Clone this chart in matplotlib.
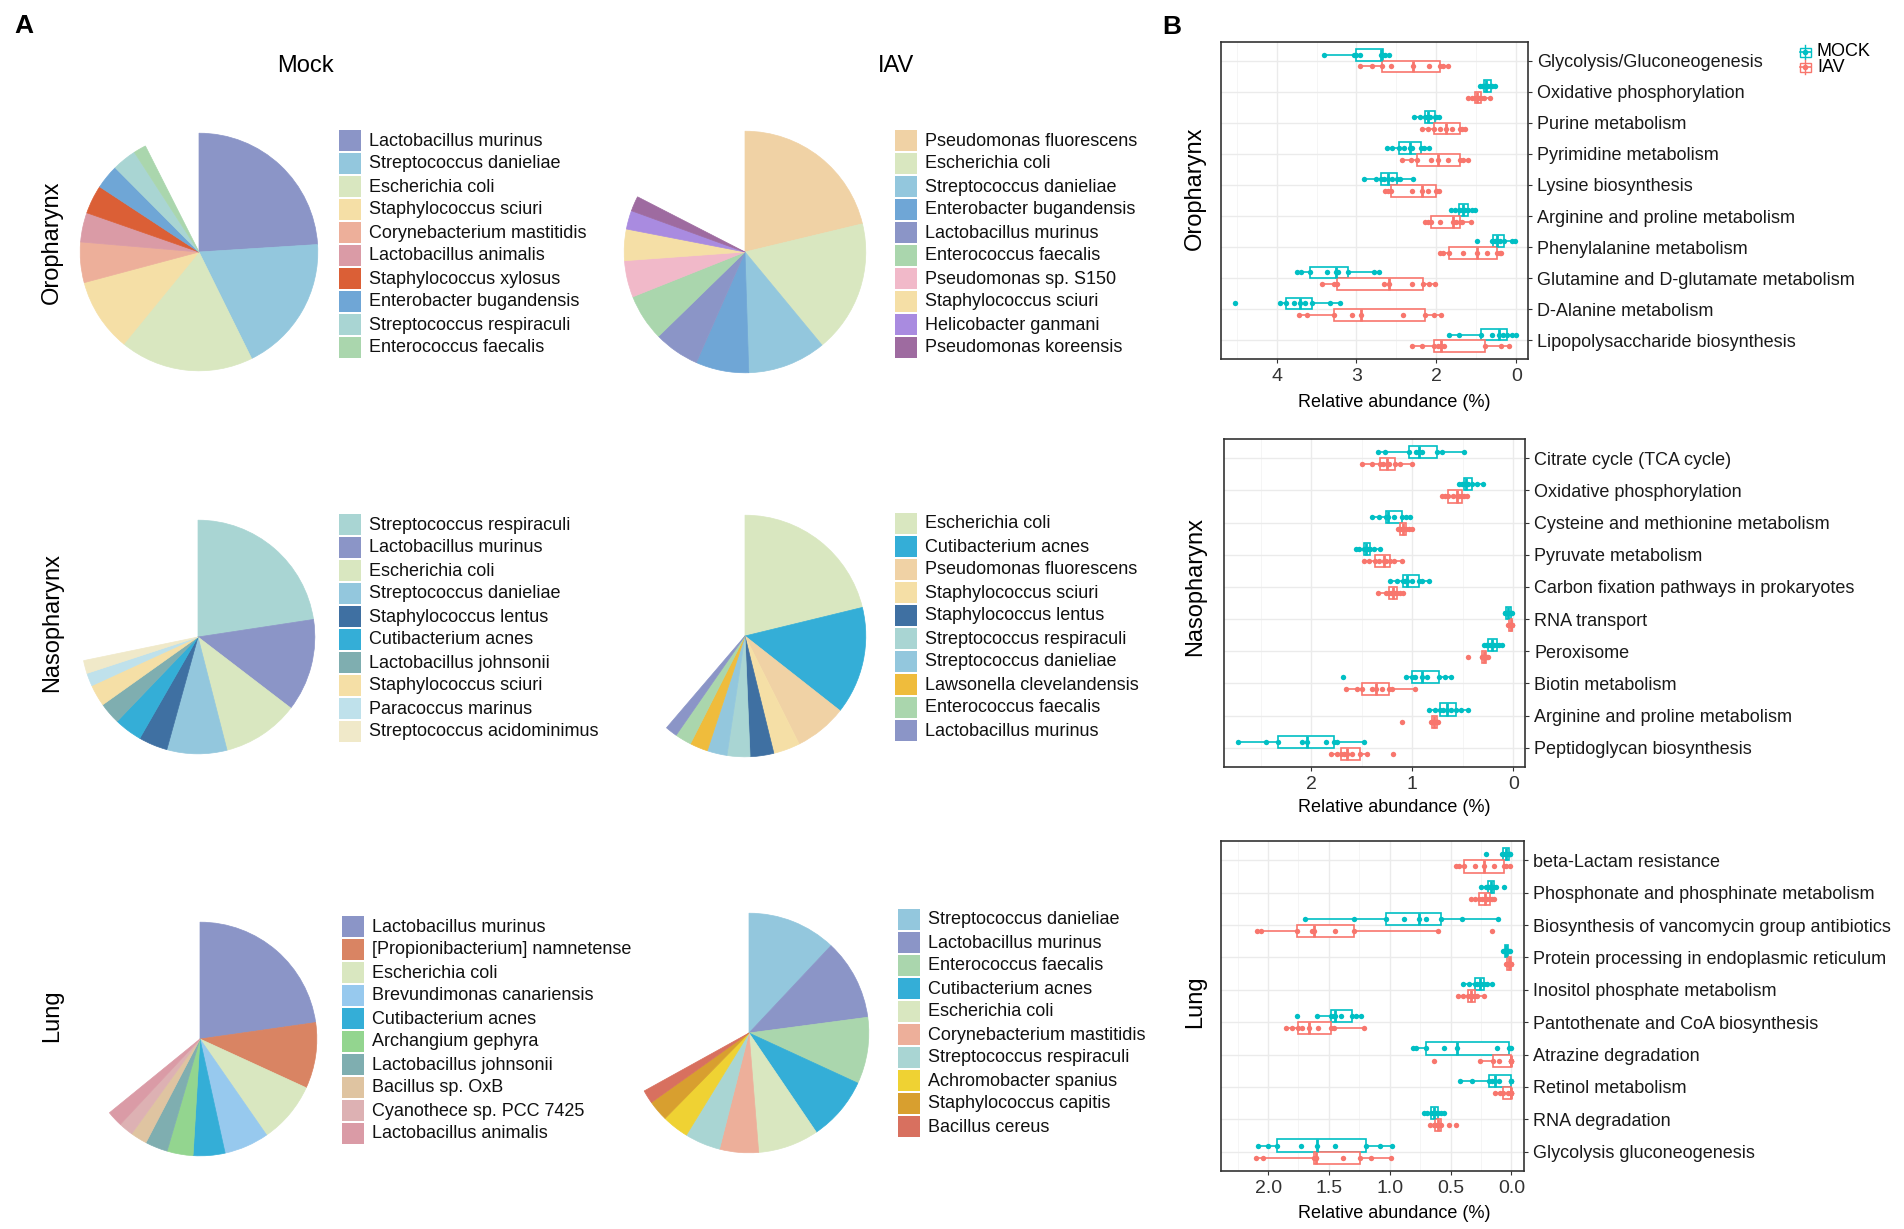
import matplotlib

matplotlib.use("Agg")
import matplotlib.pyplot as plt
import numpy as np
from matplotlib.lines import Line2D
from matplotlib.patches import Rectangle

plt.rcParams["font.family"] = ["Liberation Sans", "DejaVu Sans"]

W, H = 1904, 1229

# ---------------- panel A: species composition ----------------
SPECIES_COLORS = {
    "Lactobacillus murinus": "#8B95C7",
    "Streptococcus danieliae": "#93C7DD",
    "Escherichia coli": "#D9E7C0",
    "Staphylococcus sciuri": "#F5DFA6",
    "Corynebacterium mastitidis": "#EDAF9A",
    "Lactobacillus animalis": "#DA9BA6",
    "Staphylococcus xylosus": "#DB5F36",
    "Enterobacter bugandensis": "#6FA6D6",
    "Streptococcus respiraculi": "#A9D5D3",
    "Enterococcus faecalis": "#AAD6AD",
    "Pseudomonas fluorescens": "#F0D2A5",
    "Pseudomonas sp. S150": "#F1B9C9",
    "Helicobacter ganmani": "#A98BE0",
    "Pseudomonas koreensis": "#9E6BA0",
    "Staphylococcus lentus": "#3F70A2",
    "Cutibacterium acnes": "#34AED7",
    "Lactobacillus johnsonii": "#7FAEB0",
    "Paracoccus marinus": "#BFE1EB",
    "Streptococcus acidominimus": "#F0E9C9",
    "Lawsonella clevelandensis": "#EFBC3C",
    "[Propionibacterium] namnetense": "#D98463",
    "Brevundimonas canariensis": "#97C9EE",
    "Archangium gephyra": "#93D58F",
    "Bacillus sp. OxB": "#DFC4A1",
    "Cyanothece sp. PCC 7425": "#DDB1B3",
    "Achromobacter spanius": "#EFD233",
    "Staphylococcus capitis": "#D89F2F",
    "Bacillus cereus": "#D8705F",
}

ORO_MOCK_SPECIES = ["Lactobacillus murinus", "Streptococcus danieliae", "Escherichia coli",
                    "Staphylococcus sciuri", "Corynebacterium mastitidis", "Lactobacillus animalis",
                    "Staphylococcus xylosus", "Enterobacter bugandensis", "Streptococcus respiraculi",
                    "Enterococcus faecalis"]
ORO_MOCK_FRAC = [0.240, 0.187, 0.182, 0.0995, 0.055, 0.040, 0.039, 0.033, 0.033, 0.017]

ORO_IAV_SPECIES = ["Pseudomonas fluorescens", "Escherichia coli", "Streptococcus danieliae",
                   "Enterobacter bugandensis", "Lactobacillus murinus", "Enterococcus faecalis",
                   "Pseudomonas sp. S150", "Staphylococcus sciuri", "Helicobacter ganmani",
                   "Pseudomonas koreensis"]
ORO_IAV_FRAC = [0.2125, 0.1775, 0.105, 0.071, 0.061, 0.0625, 0.049, 0.042, 0.025, 0.020]

NASO_MOCK_SPECIES = ["Streptococcus respiraculi", "Lactobacillus murinus", "Escherichia coli",
                     "Streptococcus danieliae", "Staphylococcus lentus", "Cutibacterium acnes",
                     "Lactobacillus johnsonii", "Staphylococcus sciuri", "Paracoccus marinus",
                     "Streptococcus acidominimus"]
NASO_MOCK_FRAC = [0.226, 0.128, 0.106, 0.083, 0.040, 0.0386, 0.030, 0.030, 0.018, 0.018]

NASO_IAV_SPECIES = ["Escherichia coli", "Cutibacterium acnes", "Pseudomonas fluorescens",
                    "Staphylococcus sciuri", "Staphylococcus lentus", "Streptococcus respiraculi",
                    "Streptococcus danieliae", "Lawsonella clevelandensis", "Enterococcus faecalis",
                    "Lactobacillus murinus"]
NASO_IAV_FRAC = [0.212, 0.144, 0.070, 0.0356, 0.0317, 0.0306, 0.0267, 0.024, 0.022, 0.016]

LUNG_MOCK_SPECIES = ["Lactobacillus murinus", "[Propionibacterium] namnetense", "Escherichia coli",
                     "Brevundimonas canariensis", "Cutibacterium acnes", "Archangium gephyra",
                     "Lactobacillus johnsonii", "Bacillus sp. OxB", "Cyanothece sp. PCC 7425",
                     "Lactobacillus animalis"]
LUNG_MOCK_FRAC = [0.2275, 0.091, 0.085, 0.062, 0.044, 0.036, 0.031, 0.023, 0.020, 0.0217]

LUNG_IAV_SPECIES = ["Streptococcus danieliae", "Lactobacillus murinus", "Enterococcus faecalis",
                    "Cutibacterium acnes", "Escherichia coli", "Corynebacterium mastitidis",
                    "Streptococcus respiraculi", "Achromobacter spanius", "Staphylococcus capitis",
                    "Bacillus cereus"]
LUNG_IAV_FRAC = [0.120, 0.109, 0.0897, 0.0864, 0.082, 0.0525, 0.048, 0.036, 0.028, 0.018]

# ---------------- panel B: KEGG pathways (relative abundance, %) ----------------
ORO_PATHWAYS = ["Glycolysis/Gluconeogenesis", "Oxidative phosphorylation", "Purine metabolism",
                "Pyrimidine metabolism", "Lysine biosynthesis", "Arginine and proline metabolism",
                "Phenylalanine metabolism", "Glutamine and D-glutamate metabolism",
                "D-Alanine metabolism", "Lipopolysaccharide biosynthesis"]
ORO_TICKS = [4, 3, 2, 1]
ORO_TICKLABELS = ["4", "3", "2", "0"]
ORO_MOCK = [
    [2.587, 2.64, 2.662, 2.68, 2.699, 2.96, 3.004, 3.03, 3.409],
    [1.271, 1.30, 1.322, 1.35, 1.376, 1.39, 1.409, 1.43, 1.459],
    [1.969, 2.00, 2.015, 2.08, 2.106, 2.12, 2.140, 2.20, 2.282],
    [2.098, 2.15, 2.190, 2.30, 2.336, 2.40, 2.470, 2.55, 2.616],
    [2.294, 2.45, 2.495, 2.55, 2.608, 2.65, 2.691, 2.75, 2.900],
    [1.522, 1.56, 1.605, 1.64, 1.668, 1.70, 1.722, 1.77, 1.814],
    [1.021, 1.06, 1.16, 1.21, 1.238, 1.27, 1.29, 1.30, 1.49],
    [2.724, 2.78, 3.109, 3.23, 3.255, 3.37, 3.580, 3.70, 3.747],
    [3.200, 3.33, 3.560, 3.64, 3.701, 3.78, 3.881, 3.952, 4.520],
    [1.000, 1.06, 1.113, 1.17, 1.221, 1.30, 1.438, 1.72, 1.843],
]
ORO_IAV = [
    [1.856, 1.919, 1.952, 2.098, 2.294, 2.566, 2.678, 2.808, 2.950],
    [1.33, 1.40, 1.438, 1.47, 1.489, 1.50, 1.514, 1.55, 1.605],
    [1.647, 1.68, 1.710, 1.80, 1.885, 1.96, 2.035, 2.10, 2.182],
    [1.605, 1.67, 1.701, 1.85, 1.981, 2.07, 2.240, 2.32, 2.428],
    [1.973, 1.99, 2.002, 2.10, 2.182, 2.30, 2.566, 2.60, 2.649],
    [1.572, 1.68, 1.710, 1.75, 1.793, 1.95, 2.073, 2.10, 2.140],
    [1.188, 1.21, 1.238, 1.37, 1.489, 1.67, 1.843, 1.92, 1.960],
    [2.015, 2.09, 2.169, 2.31, 2.595, 2.66, 3.246, 3.28, 3.434],
    [1.939, 2.03, 2.148, 2.42, 2.942, 3.06, 3.284, 3.62, 3.714],
    [1.096, 1.19, 1.388, 1.90, 1.948, 1.98, 2.031, 2.18, 2.303],
]

NASO_PATHWAYS = ["Citrate cycle (TCA cycle)", "Oxidative phosphorylation",
                 "Cysteine and methionine metabolism", "Pyruvate metabolism",
                 "Carbon fixation pathways in prokaryotes", "RNA transport", "Peroxisome",
                 "Biotin metabolism", "Arginine and proline metabolism", "Peptidoglycan biosynthesis"]
NASO_TICKS = [2, 1, 0]
NASO_TICKLABELS = ["2", "1", "0"]
NASO_MOCK = [
    [0.486, 0.71, 0.760, 0.90, 0.932, 0.96, 1.035, 1.27, 1.339],
    [0.30, 0.36, 0.413, 0.45, 0.473, 0.48, 0.489, 0.51, 0.536],
    [1.025, 1.06, 1.107, 1.18, 1.240, 1.25, 1.263, 1.33, 1.395],
    [1.32, 1.38, 1.415, 1.44, 1.455, 1.47, 1.481, 1.53, 1.560],
    [0.833, 0.90, 0.932, 1.00, 1.051, 1.07, 1.091, 1.15, 1.223],
    [0.010, 0.02, 0.026, 0.05, 0.056, 0.06, 0.076, 0.08, 0.083],
    [0.109, 0.14, 0.165, 0.19, 0.208, 0.23, 0.255, 0.27, 0.291],
    [0.618, 0.68, 0.737, 0.85, 0.902, 0.97, 1.008, 1.058, 1.686],
    [0.453, 0.52, 0.569, 0.62, 0.661, 0.70, 0.727, 0.78, 0.836],
    [1.481, 1.75, 1.779, 1.86, 2.040, 2.09, 2.331, 2.45, 2.727],
]
NASO_IAV = [
    [1.002, 1.12, 1.167, 1.23, 1.256, 1.29, 1.316, 1.40, 1.494],
    [0.456, 0.49, 0.512, 0.54, 0.562, 0.60, 0.651, 0.68, 0.711],
    [1.008, 1.03, 1.058, 1.08, 1.091, 1.10, 1.124, 1.13, 1.140],
    [1.101, 1.18, 1.223, 1.26, 1.279, 1.33, 1.372, 1.43, 1.481],
    [1.091, 1.12, 1.150, 1.17, 1.190, 1.21, 1.233, 1.26, 1.345],
    [0.010, 0.015, 0.017, 0.02, 0.026, 0.03, 0.040, 0.045, 0.050],
    [0.255, 0.265, 0.271, 0.28, 0.291, 0.30, 0.307, 0.314, 0.453],
    [0.969, 1.20, 1.233, 1.30, 1.362, 1.40, 1.498, 1.55, 1.660],
    [0.750, 0.755, 0.760, 0.77, 0.783, 0.80, 0.810, 0.817, 1.107],
    [1.190, 1.448, 1.521, 1.60, 1.646, 1.68, 1.702, 1.75, 1.802],
]

LUNG_PATHWAYS = ["beta-Lactam resistance", "Phosphonate and phosphinate metabolism",
                 "Biosynthesis of vancomycin group antibiotics",
                 "Protein processing in endoplasmic reticulum", "Inositol phosphate metabolism",
                 "Pantothenate and CoA biosynthesis", "Atrazine degradation", "Retinol metabolism",
                 "RNA degradation", "Glycolysis gluconeogenesis"]
LUNG_TICKS = [2.0, 1.5, 1.0, 0.5, 0.0]
LUNG_TICKLABELS = ["2.0", "1.5", "1.0", "0.5", "0.0"]
LUNG_MOCK = [
    [0.008, 0.015, 0.022, 0.04, 0.047, 0.055, 0.069, 0.075, 0.206],
    [0.060, 0.13, 0.143, 0.16, 0.170, 0.18, 0.192, 0.21, 0.252],
    [0.110, 0.403, 0.576, 0.70, 0.763, 0.88, 1.029, 1.295, 1.70],
    [0.014, 0.02, 0.027, 0.035, 0.041, 0.048, 0.055, 0.06, 0.069],
    [0.159, 0.20, 0.228, 0.25, 0.261, 0.28, 0.302, 0.35, 0.398],
    [1.235, 1.28, 1.309, 1.40, 1.449, 1.46, 1.481, 1.597, 1.76],
    [0.0, 0.01, 0.022, 0.12, 0.447, 0.55, 0.700, 0.78, 0.809],
    [0.0, 0.0, 0.0, 0.10, 0.137, 0.16, 0.187, 0.321, 0.420],
    [0.554, 0.58, 0.604, 0.62, 0.636, 0.645, 0.658, 0.69, 0.719],
    [0.982, 1.08, 1.193, 1.45, 1.597, 1.73, 1.926, 2.0, 2.085],
]
LUNG_IAV = [
    [0.008, 0.04, 0.063, 0.14, 0.225, 0.30, 0.390, 0.43, 0.458],
    [0.143, 0.16, 0.178, 0.20, 0.214, 0.24, 0.266, 0.30, 0.329],
    [0.156, 0.604, 1.295, 1.45, 1.624, 1.64, 1.764, 2.06, 2.091],
    [0.0, 0.003, 0.005, 0.015, 0.022, 0.028, 0.033, 0.036, 0.041],
    [0.225, 0.28, 0.302, 0.32, 0.329, 0.34, 0.357, 0.40, 0.435],
    [1.215, 1.46, 1.481, 1.59, 1.665, 1.72, 1.750, 1.80, 1.852],
    [0.0, 0.0, 0.0, 0.0, 0.0, 0.10, 0.151, 0.261, 0.636],
    [0.0, 0.0, 0.0, 0.0, 0.005, 0.03, 0.069, 0.096, 0.132],
    [0.453, 0.513, 0.582, 0.59, 0.604, 0.61, 0.626, 0.64, 0.672],
    [0.993, 1.15, 1.243, 1.38, 1.605, 1.61, 1.619, 2.04, 2.099],
]

MOCK_C = "#00BFC4"
IAV_C = "#F8766D"

fig = plt.figure(figsize=(W / 100, H / 100), dpi=100)


def fx(x):
    return x / W


def fy(y):
    return 1 - y / H


def draw_pie(cx, cy, r, species, fracs, leg_x, leg_top):
    ax = fig.add_axes([fx(cx - r), fy(cy + r), 2 * r / W, 2 * r / H])
    cols = [SPECIES_COLORS[s] for s in species]
    wedges, _ = ax.pie(fracs, colors=cols, startangle=90, counterclock=False,
                       normalize=False, radius=1)
    for w in wedges:
        w.set_edgecolor(w.get_facecolor())
        w.set_linewidth(0.5)
    ax.set_xlim(-1.01, 1.01)
    ax.set_ylim(-1.01, 1.01)
    ax.axis("off")
    # legend
    for i, (s, c) in enumerate(zip(species, cols)):
        top = leg_top + 23 * i
        fig.add_artist(Rectangle((fx(leg_x), fy(top + 21)), 22 / W, 21 / H,
                                 transform=fig.transFigure, facecolor=c, edgecolor="none"))
        fig.text(fx(leg_x + 30), fy(top + 11), s, fontsize=13, va="center", ha="left",
                 color="#111111")


draw_pie(199, 252, 120, ORO_MOCK_SPECIES, ORO_MOCK_FRAC, 339, 130)
draw_pie(745, 252, 122, ORO_IAV_SPECIES, ORO_IAV_FRAC, 895, 130)
draw_pie(198, 637, 118, NASO_MOCK_SPECIES, NASO_MOCK_FRAC, 339, 514)
draw_pie(745, 636, 122, NASO_IAV_SPECIES, NASO_IAV_FRAC, 895, 513)
draw_pie(200, 1039, 118, LUNG_MOCK_SPECIES, LUNG_MOCK_FRAC, 342, 916)
draw_pie(749, 1033, 121, LUNG_IAV_SPECIES, LUNG_IAV_FRAC, 898, 909)

fig.text(fx(24), fy(26), "A", fontsize=19, fontweight="bold", ha="center", va="center")
fig.text(fx(305), fy(66), "Mock", fontsize=17, ha="center", va="center")
fig.text(fx(896), fy(66), "IAV", fontsize=17, ha="center", va="center")
for label, y in [("Oropharynx", 242), ("Nasopharynx", 623), ("Lung", 1016)]:
    fig.text(fx(52), fy(y), label, fontsize=17, rotation=90, ha="center", va="center")


# ---------------- panel B ----------------
def draw_box_panel(left, top, right, bottom, pathways, mock, iav, xlim, ticks, ticklabels,
                   minor, row_label, label_y, xlabel_y):
    ax = fig.add_axes([fx(left), fy(bottom), (right - left) / W, (bottom - top) / H])
    cats = np.arange(1, len(pathways) + 1)
    for data, off, col in [(mock, -0.1875, MOCK_C), (iav, 0.1875, IAV_C)]:
        ax.boxplot(data, positions=cats + off, widths=0.375, orientation="horizontal",
                   showfliers=False, showcaps=False, patch_artist=True, manage_ticks=False,
                   boxprops=dict(facecolor="white", edgecolor=col, linewidth=1.2),
                   whiskerprops=dict(color=col, linewidth=1.2),
                   medianprops=dict(color=col, linewidth=2.0), zorder=2)
        for i, vals in enumerate(data):
            ax.scatter(vals, np.full(len(vals), cats[i] + off), s=15, color=col,
                       linewidths=0, zorder=3)
    ax.set_xlim(*xlim)
    ax.set_ylim(len(pathways) + 0.6, 0.4)
    ax.set_yticks(cats)
    ax.set_yticklabels(pathways, fontsize=13, color="#1A1A1A")
    ax.yaxis.tick_right()
    ax.set_xticks(ticks)
    ax.set_xticklabels(ticklabels, fontsize=14, color="#333333")
    ax.set_xticks(minor, minor=True)
    ax.tick_params(axis="both", which="major", length=3, width=0.8, color="#333333", pad=3.5)
    ax.tick_params(axis="x", which="minor", length=0)
    ax.grid(which="major", color="#EBEBEB", linewidth=1.0)
    ax.grid(which="minor", axis="x", color="#F4F4F4", linewidth=0.6)
    ax.set_axisbelow(True)
    for sp in ax.spines.values():
        sp.set_color("#333333")
        sp.set_linewidth(1.2)
    fig.text(fx(1195), fy(label_y), row_label, fontsize=17, rotation=90, ha="center",
             va="center")
    fig.text(fx(1394), fy(xlabel_y), "Relative abundance (%)", fontsize=13, ha="center",
             va="center")


draw_box_panel(1221, 42, 1528, 359, ORO_PATHWAYS, ORO_MOCK, ORO_IAV, (4.695, 0.854),
               ORO_TICKS, ORO_TICKLABELS, [4.5, 3.5, 2.5, 1.5], "Oropharynx", 188, 403)
draw_box_panel(1224, 439, 1525, 767, NASO_PATHWAYS, NASO_MOCK, NASO_IAV, (2.866, -0.116),
               NASO_TICKS, NASO_TICKLABELS, [2.5, 1.5, 0.5], "Nasopharynx", 586, 807)
draw_box_panel(1221, 841, 1524, 1171, LUNG_PATHWAYS, LUNG_MOCK, LUNG_IAV, (2.387, -0.104),
               LUNG_TICKS, LUNG_TICKLABELS, [2.25, 1.75, 1.25, 0.75, 0.25], "Lung", 1002, 1213)

fig.text(fx(1172), fy(27), "B", fontsize=19, fontweight="bold", ha="center", va="center")


# legend for panel B
def legend_key(xc, yc, col):
    fig.add_artist(Line2D([fx(xc), fx(xc)], [fy(yc - 7), fy(yc + 7)],
                          transform=fig.transFigure, color=col, lw=1.0))
    fig.add_artist(Rectangle((fx(xc - 5.5), fy(yc + 4.5)), 11 / W, 9 / H,
                             transform=fig.transFigure, facecolor="white", edgecolor=col, lw=1.0))
    fig.add_artist(Line2D([fx(xc - 5.5), fx(xc + 5.5)], [fy(yc), fy(yc)],
                          transform=fig.transFigure, color=col, lw=1.2))
    fig.add_artist(Line2D([fx(xc)], [fy(yc)], transform=fig.transFigure, color=col,
                          marker="o", markersize=3, lw=0))


for name, col, y in [("MOCK", MOCK_C, 52), ("IAV", IAV_C, 67)]:
    legend_key(1805, y, col)
    fig.text(fx(1817), fy(y), name, fontsize=13, ha="left", va="center")

fig.savefig("out.png", dpi=100)
